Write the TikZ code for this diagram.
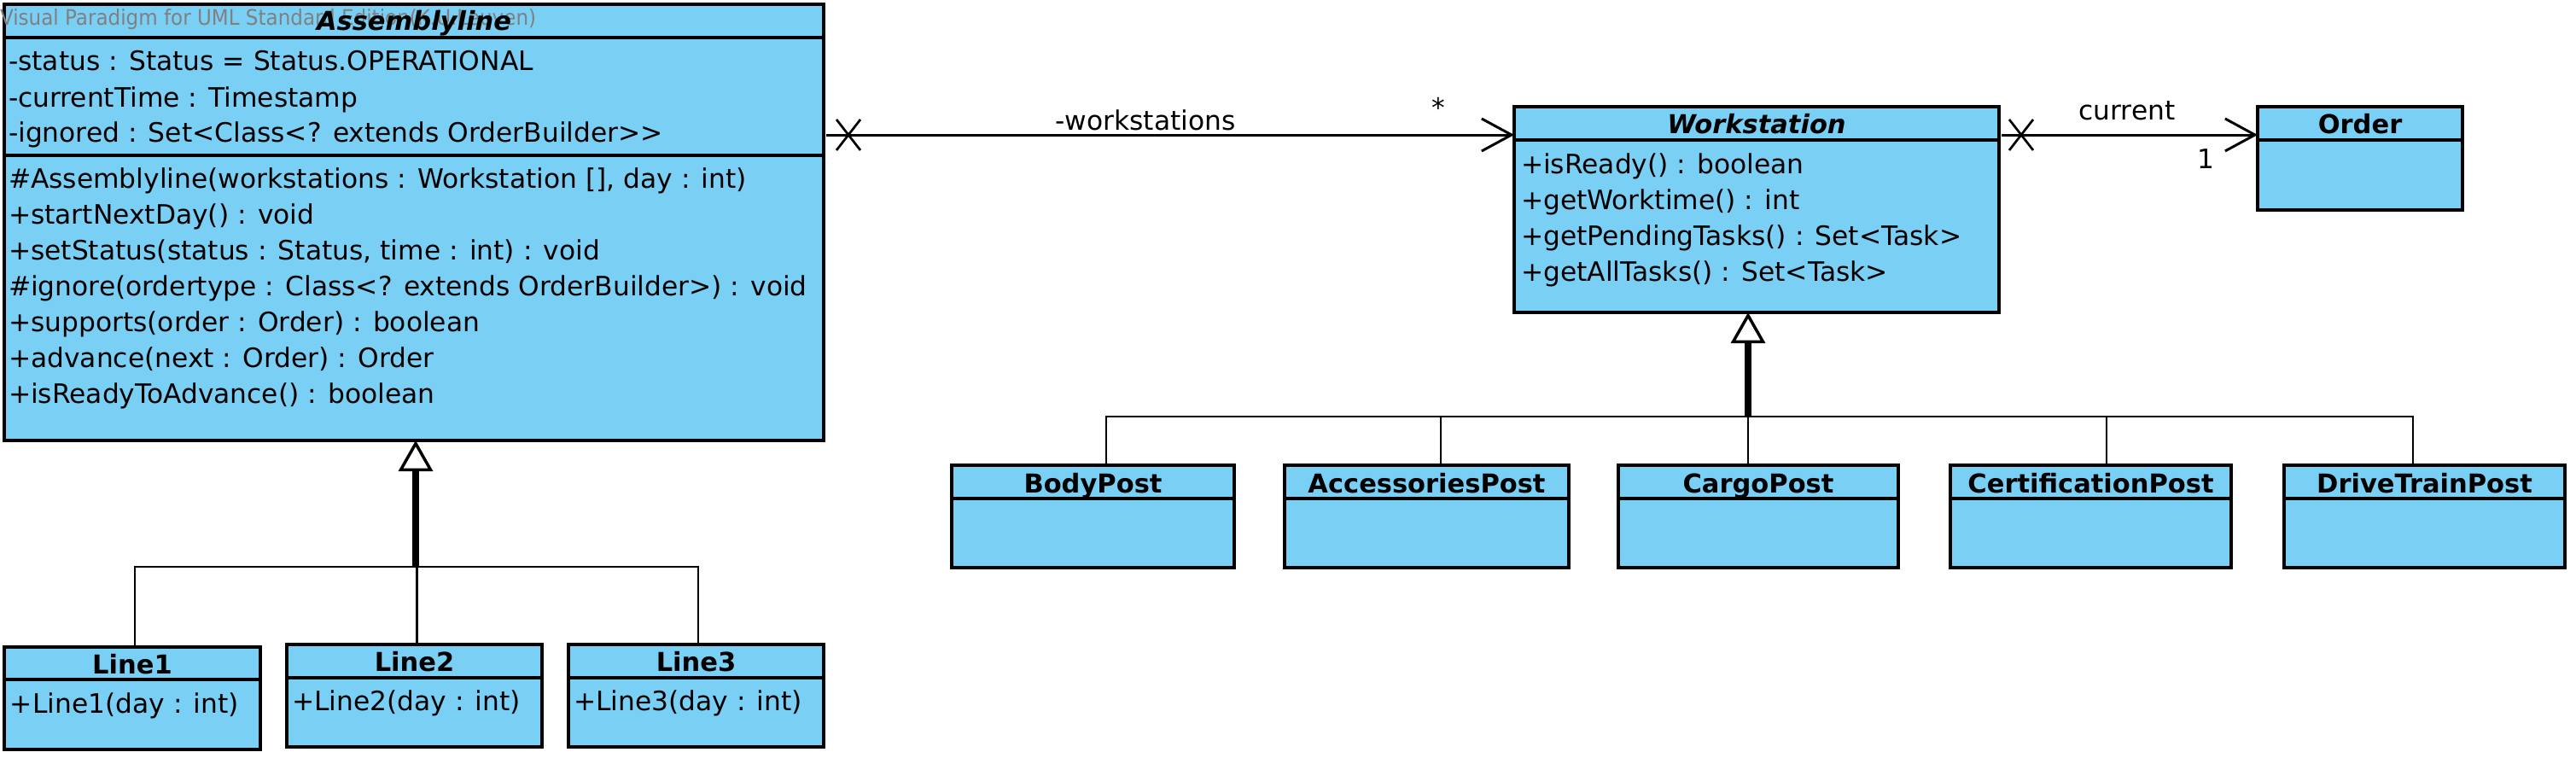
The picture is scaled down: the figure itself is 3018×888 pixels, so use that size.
\documentclass[tikz,border=0pt]{standalone}
\usepackage{fontspec}
\setmainfont{DejaVu Sans}
\usetikzlibrary{arrows.meta,calc}
\definecolor{umlblue}{RGB}{122,207,245}
\definecolor{wmgray}{RGB}{128,128,128}
\begin{document}
\begin{tikzpicture}[x=1pt,y=-1pt,
  every node/.style={font=\fontsize{31.3}{36}\selectfont, inner sep=0pt, outer sep=0pt},
  classbox/.style={draw, line width=3.3pt, fill=umlblue, anchor=north west, inner sep=0pt},
  sepline/.style={line width=3.3pt},
  member/.style={anchor=base west},
  ctitle/.style={anchor=base, font=\fontsize{30.5}{36}\selectfont\bfseries},
  atitle/.style={anchor=base, font=\fontsize{30.5}{36}\selectfont\bfseries\itshape},
  assoc/.style={line width=3pt},
  xmark/.style={line width=2.7pt},
  trunk/.style={line width=8pt},
  branch/.style={line width=2.7pt},
  lbl/.style={anchor=base}
]
\useasboundingbox (0,0) rectangle (3018,888);

% ---------- Assemblyline ----------
\node[classbox, minimum width=960pt, minimum height=511pt] (asm) at (5,5) {};
\draw[sepline] (asm.west |- 0,44) -- (asm.east |- 0,44);
\draw[sepline] (asm.west |- 0,182) -- (asm.east |- 0,182);
% watermark (under the texts, over the fill)
\node[anchor=base west, text=wmgray, font=\fontsize{25}{30}\selectfont] (wm) at (0,30) {\resizebox{628pt}{\height}{Visual Paradigm for UML Standard Edition(K.U.Leuven)}};
\node[atitle] (asmT) at (485,35.5) {Assemblyline};
\node[member] (asmA1) at (10,83) {-status : Status = Status.OPERATIONAL};
\node[member] (asmA2) at (10,125) {-currentTime : Timestamp};
\node[member] (asmA3) at (10,166) {-ignored : Set<Class<? extends OrderBuilder>{}>};
\node[member] (asmO1) at (10,220) {\#Assemblyline(workstations : Workstation [], day : int)};
\node[member] (asmO2) at (10,262) {+startNextDay() : void};
\node[member] (asmO3) at (10,304) {+setStatus(status : Status, time : int) : void};
\node[member] (asmO4) at (10,346) {\#ignore(ordertype : Class<? extends OrderBuilder>) : void};
\node[member] (asmO5) at (10,388) {+supports(order : Order) : boolean};
\node[member] (asmO6) at (10,430) {+advance(next : Order) : Order};
\node[member] (asmO7) at (10,472) {+isReadyToAdvance() : boolean};

% ---------- Workstation ----------
\node[classbox, minimum width=568pt, minimum height=241pt] (ws) at (1774,125) {};
\draw[sepline] (ws.west |- 0,164) -- (ws.east |- 0,164);
\node[atitle] (wsT) at (2058,157) {Workstation};
\node[member] (wsO1) at (1782,203) {+isReady() : boolean};
\node[member] (wsO2) at (1782,245) {+getWorktime() : int};
\node[member] (wsO3) at (1782,287) {+getPendingTasks() : Set<Task>};
\node[member] (wsO4) at (1782,329) {+getAllTasks() : Set<Task>};

% ---------- Order ----------
\node[classbox, minimum width=240pt, minimum height=121pt] (ord) at (2645,125) {};
\draw[sepline] (ord.west |- 0,164) -- (ord.east |- 0,164);
\node[ctitle] (ordT) at (2765,157) {Order};

% ---------- Lines ----------
\node[classbox, minimum width=300pt, minimum height=120pt] (l1) at (5,758) {};
\draw[sepline] (l1.west |- 0,796) -- (l1.east |- 0,796);
\node[ctitle] (l1T) at (155,789) {Line1};
\node[member] (l1O) at (12,835) {+Line1(day : int)};

\node[classbox, minimum width=299pt, minimum height=120pt] (l2) at (336,755) {};
\draw[sepline] (l2.west |- 0,794) -- (l2.east |- 0,794);
\node[ctitle] (l2T) at (485.5,786) {Line2};
\node[member] (l2O) at (342,832) {+Line2(day : int)};

\node[classbox, minimum width=299pt, minimum height=120pt] (l3) at (666,755) {};
\draw[sepline] (l3.west |- 0,794) -- (l3.east |- 0,794);
\node[ctitle] (l3T) at (815.5,786) {Line3};
\node[member] (l3O) at (672,832) {+Line3(day : int)};

% ---------- Posts ----------
\node[classbox, minimum width=331pt, minimum height=120pt] (bp) at (1115,545) {};
\draw[sepline] (bp.west |- 0,584) -- (bp.east |- 0,584);
\node[ctitle] (bpT) at (1280.5,577) {BodyPost};

\node[classbox, minimum width=333pt, minimum height=120pt] (ap) at (1505,545) {};
\draw[sepline] (ap.west |- 0,584) -- (ap.east |- 0,584);
\node[ctitle] (apT) at (1671.5,577) {AccessoriesPost};

\node[classbox, minimum width=328pt, minimum height=120pt] (cp) at (1896,545) {};
\draw[sepline] (cp.west |- 0,584) -- (cp.east |- 0,584);
\node[ctitle] (cpT) at (2060,577) {CargoPost};

\node[classbox, minimum width=329pt, minimum height=120pt] (cep) at (2285,545) {};
\draw[sepline] (cep.west |- 0,584) -- (cep.east |- 0,584);
\node[ctitle] (cepT) at (2449.5,577) {CertificationPost};

\node[classbox, minimum width=329pt, minimum height=120pt] (dtp) at (2676,545) {};
\draw[sepline] (dtp.west |- 0,584) -- (dtp.east |- 0,584);
\node[ctitle] (dtpT) at (2840.5,577) {DriveTrainPost};

% ---------- Associations ----------
\draw[assoc, -{Straight Barb[length=35pt, width=38pt]}] ([xshift=3pt]asm.east |- 0,158) -- (ws.west |- 0,158);
\coordinate (x1) at (994,158);
\draw[xmark] ($(x1)+(-14,-18)$) -- ($(x1)+(14,18)$) ($(x1)+(-14,18)$) -- ($(x1)+(14,-18)$);
\node[lbl] (lws) at (1342,152) {-workstations};
\node[lbl] (lstar) at (1685,137) {*};

\draw[assoc, -{Straight Barb[length=35pt, width=38pt]}] ([xshift=3pt]ws.east |- 0,158) -- (ord.west |- 0,158);
\coordinate (x2) at (2368,158);
\draw[xmark] ($(x2)+(-14,-18)$) -- ($(x2)+(14,18)$) ($(x2)+(-14,18)$) -- ($(x2)+(14,-18)$);
\node[lbl] (lcur) at (2492,140) {current};
\node[lbl] (lone) at (2584,197) {1};

% ---------- Generalization: Lines ----------
\coordinate (jn1) at (487,664);
\draw[branch] ([xshift=3pt]l1.north) |- (jn1);
\draw[branch] ([xshift=3pt]l2.north) |- (jn1);
\draw[branch] ([xshift=2.5pt]l3.north) |- (jn1);
\draw[trunk, -{Triangle[length=36pt, width=40pt, line width=3.5pt, fill=white]}] (jn1) -- (jn1 |- asm.south);

% ---------- Generalization: Posts ----------
\coordinate (jn2) at (2048,488);
\draw[branch] ([xshift=15.5pt]bp.north) |- (jn2);
\draw[branch] ([xshift=16.5pt]ap.north) |- (jn2);
\draw[branch] ([xshift=-12pt]cp.north) |- (jn2);
\draw[branch] ([xshift=18.5pt]cep.north) |- (jn2);
\draw[branch] ([xshift=-13.5pt]dtp.north) |- (jn2);
\draw[trunk, -{Triangle[length=36pt, width=40pt, line width=3.5pt, fill=white]}] (jn2) -- (jn2 |- ws.south);
\end{tikzpicture}
\end{document}
